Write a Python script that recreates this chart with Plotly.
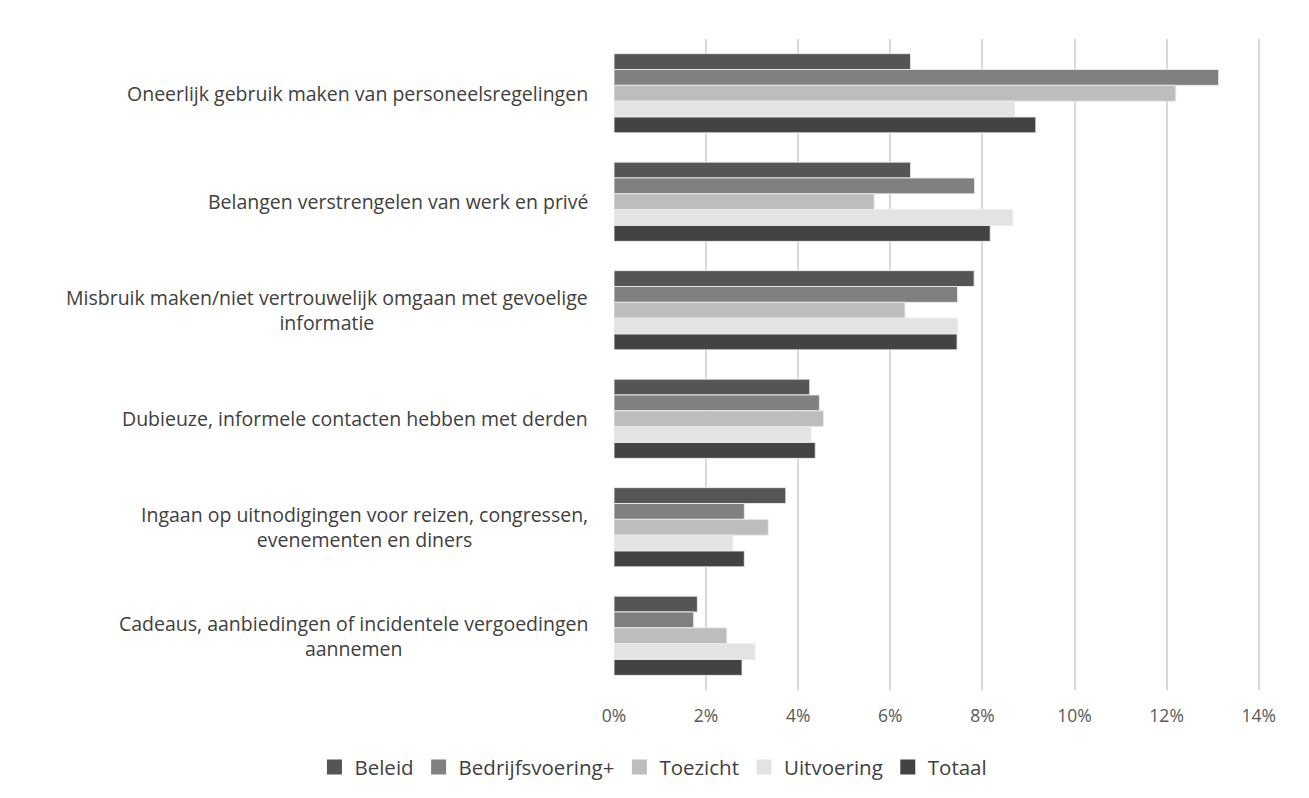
import plotly.graph_objects as go

categories = [
    "Oneerlijk gebruik maken van personeelsregelingen",
    "Belangen verstrengelen van werk en privé",
    "Misbruik maken/niet vertrouwelijk omgaan met gevoelige<br>informatie",
    "Dubieuze, informele contacten hebben met derden",
    "Ingaan op uitnodigingen voor reizen, congressen,<br>evenementen en diners",
    "Cadeaus, aanbiedingen of incidentele vergoedingen<br>aannemen",
]

beleid = [0.0644, 0.0644, 0.0782, 0.0425, 0.0373, 0.0181]
bedrijfsvoering = [0.1313, 0.0783, 0.0746, 0.0446, 0.0283, 0.0173]
toezicht = [0.1220, 0.0565, 0.0632, 0.0455, 0.0335, 0.0245]
uitvoering = [0.0870, 0.0866, 0.0746, 0.0428, 0.0258, 0.0306]
totaal = [0.0916, 0.0817, 0.0745, 0.0437, 0.0283, 0.0278]

series = [
    ("Beleid", beleid, "#555555"),
    ("Bedrijfsvoering+", bedrijfsvoering, "#808080"),
    ("Toezicht", toezicht, "#bdbdbd"),
    ("Uitvoering", uitvoering, "#e3e3e3"),
    ("Totaal", totaal, "#434343"),
]

x_ticks = [0, 0.02, 0.04, 0.06, 0.08, 0.10, 0.12, 0.14]

FONT = "'Open Sans', sans-serif"
TEXT = "#404040"

fig = go.Figure()
for name, vals, color in series:
    fig.add_trace(go.Bar(
        name=name,
        y=categories,
        x=vals,
        orientation="h",
        showlegend=False,
        marker=dict(color=color, line=dict(color="rgba(235,235,235,0.9)", width=1)),
    ))

# legend entries with larger square swatches
for name, vals, color in series:
    fig.add_trace(go.Scatter(
        name=name, x=[None], y=[None], mode="markers",
        marker=dict(symbol="square", size=15, color=color),
        showlegend=True,
    ))

# category labels, centred per line, left of the plot edge
for cat in categories:
    fig.add_annotation(
        xref="paper", yref="y", x=0, y=cat, xshift=-24,
        text=cat, showarrow=False, xanchor="right", yanchor="middle",
        align="center", font=dict(family=FONT, size=19.5, color=TEXT),
    )

fig.update_layout(
    width=1309, height=798,
    paper_bgcolor="#ffffff", plot_bgcolor="#ffffff",
    barmode="group", bargap=0.27, bargroupgap=0,
    margin=dict(l=614, r=48, t=39, b=108, autoexpand=False),
    font=dict(family=FONT, size=16, color=TEXT),
    showlegend=True,
    legend=dict(
        orientation="h", x=-0.463, xanchor="left",
        y=-0.088, yanchor="top",
        font=dict(family=FONT, size=20.5, color=TEXT),
        traceorder="normal", itemsizing="trace",
    ),
    xaxis=dict(
        range=[0, 0.1405], tickvals=x_ticks, tickformat=".0%",
        showgrid=True, gridcolor="#d9d9d9", gridwidth=2,
        zeroline=False, showline=False, ticks="",
        tickfont=dict(family=FONT, size=17.5, color="#595959"),
        ticklabelstandoff=13,
    ),
    yaxis=dict(
        autorange="reversed", showticklabels=False, showgrid=False,
        zeroline=False, showline=False, ticks="",
    ),
)

fig.write_html("out.html")
